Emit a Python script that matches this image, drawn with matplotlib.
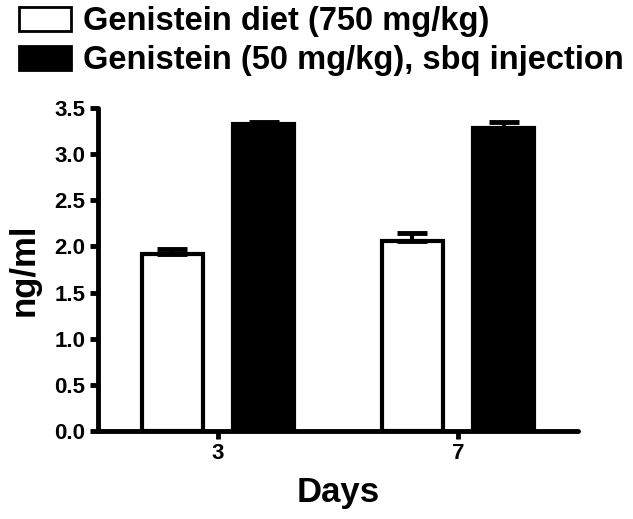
import matplotlib
matplotlib.use("Agg")
import matplotlib.pyplot as plt
import matplotlib.patches as mpatches
import numpy as np

plt.rcParams['font.family'] = ['Liberation Sans', 'DejaVu Sans']
plt.rcParams['font.weight'] = 'bold'

days = ["3", "7"]
series_names = ["Genistein diet (750 mg/kg)", "Genistein (50 mg/kg), sbq injection"]
diet_mean = [1.92, 2.06]
diet_err = [0.05, 0.09]
inj_mean = [3.33, 3.28]
inj_err = [0.02, 0.07]
yticks = [0.0, 0.5, 1.0, 1.5, 2.0, 2.5, 3.0, 3.5]

fig = plt.figure(figsize=(6.33, 5.19), dpi=100)
ax = fig.add_axes([0.155, 0.1696, 0.913 - 0.155, 0.792 - 0.1696])

x = np.arange(len(days))
w = 0.255
off = 0.19
lw = 3.0
ax.bar(x - off, diet_mean, width=w, color='white', edgecolor='black', linewidth=lw, zorder=2)
ax.bar(x + off, inj_mean, width=w, color='black', edgecolor='black', linewidth=lw, zorder=2)
ax.errorbar(x - off, diet_mean, yerr=[np.zeros(len(days)), diet_err], fmt='none',
            ecolor='black', elinewidth=3, capsize=11, capthick=3.5, zorder=3)
ax.errorbar(x + off, inj_mean, yerr=[np.zeros(len(days)), inj_err], fmt='none',
            ecolor='black', elinewidth=3, capsize=11, capthick=3.5, zorder=3)

ax.set_xlim(-0.5, 1.5)
ax.set_ylim(0, 3.5)
ax.set_yticks(yticks)
ax.set_yticklabels([f"{v:.1f}" for v in yticks])
ax.set_xticks(x)
ax.set_xticklabels(days)
for s in ['top', 'right']:
    ax.spines[s].set_visible(False)
for s in ['left', 'bottom']:
    ax.spines[s].set_linewidth(3.5)
    ax.spines[s].set_capstyle('round')
ax.tick_params(axis='both', direction='out', length=6, width=3.5, labelsize=16, pad=3)
for lab in ax.get_xticklabels() + ax.get_yticklabels():
    lab.set_fontweight('bold')
ax.set_xlabel("Days", fontsize=25, fontweight='bold', labelpad=8)
ax.set_ylabel("ng/ml", fontsize=25, fontweight='bold', labelpad=10)

handles = [mpatches.Patch(facecolor='white', edgecolor='black', linewidth=2),
           mpatches.Patch(facecolor='black', edgecolor='black', linewidth=2)]
fig.legend(handles, series_names, loc='upper left', bbox_to_anchor=(0.03, 0.988),
           frameon=False, handlelength=1.6, handleheight=0.78,
           handletextpad=0.35, labelspacing=0.25, borderpad=0, borderaxespad=0,
           prop={'weight': 'bold', 'size': 23.5})

fig.savefig("out.png", dpi=100)
